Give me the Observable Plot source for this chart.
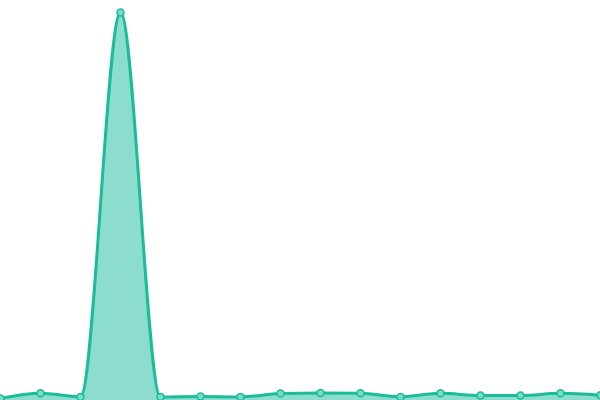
<!DOCTYPE html>
<html>
<head>
<meta charset="utf-8">
<script src="https://cdn.jsdelivr.net/npm/d3@7"></script>
<script src="https://cdn.jsdelivr.net/npm/@observablehq/plot@0.6"></script>
<style>
  html, body { margin: 0; padding: 0; background: #fff; }
  #chart svg { display: block; }
</style>
</head>
<body>
<div id="chart"></div>
<script>
const xs = [0, 1, 2, 3, 4, 5, 6, 7, 8, 9, 10, 11, 12, 13, 14, 15];
const values = [0.5, 1.8, 0.9, 97, 0.9, 1.0, 0.9, 1.75, 1.9, 1.8, 0.9, 1.8, 1.25, 1.25, 1.8, 1.3];

const data = xs.map((x, i) => ({x, value: values[i]}));

const lineColor = "#1abc9c";

const chart = Plot.plot({
  width: 600,
  height: 400,
  margin: 0,
  x: {domain: [0, 15], axis: null},
  y: {domain: [0, 100], axis: null},
  marks: [
    Plot.areaY(data, {x: "x", y: "value", curve: "monotone-x", fill: lineColor, fillOpacity: 0.5}),
    Plot.lineY(data, {x: "x", y: "value", curve: "monotone-x", stroke: lineColor, strokeWidth: 3}),
    Plot.dot(data, {x: "x", y: "value", r: 3.5, fill: "#76dcc4", stroke: lineColor, strokeWidth: 1.5})
  ]
});
document.getElementById("chart").appendChild(chart);
</script>
</body>
</html>
